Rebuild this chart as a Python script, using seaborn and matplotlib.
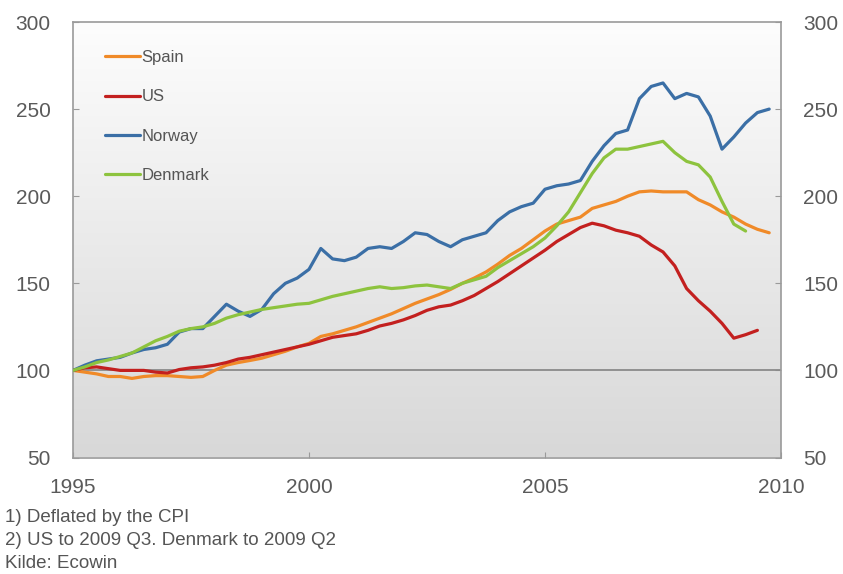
import numpy as np
import pandas as pd
import matplotlib
matplotlib.use("Agg")
import matplotlib.pyplot as plt
import seaborn as sns
from matplotlib.colors import LinearSegmentedColormap

# ---- data (quarterly, 1995Q1 = 100) ----
start_year = 1995.0
spain = [100, 99, 98, 96.5, 96.5, 95.4, 96.5, 97, 97, 96.5, 96, 96.5,
         100, 103, 104.5, 105.7, 107, 109, 111, 113.5, 115.5, 119.5, 121, 123,
         125, 127.5, 130, 132.5, 135.5, 138.5, 141, 143.5, 146.5, 150, 153, 156.5,
         161, 166, 170, 175, 180, 184, 186, 188, 193, 195, 197, 200,
         202.5, 203, 202.5, 202.5, 202.5, 198, 195, 191, 188, 184, 181, 179]
us = [100, 101.5, 102, 101, 100, 100, 100, 99, 98.5, 100.5, 101.5, 102,
      103, 104.5, 106.5, 107.5, 109, 110.5, 112, 113.5, 115, 117, 119, 120,
      121, 123, 125.5, 127, 129, 131.5, 134.5, 136.5, 137.5, 140, 143, 147,
      151, 155.5, 160, 164.5, 169, 174, 178, 182, 184.5, 183, 180.5, 179,
      177, 172, 168, 160, 147, 140, 134, 127, 118.5, 120.5, 123]
norway = [100, 103, 105.5, 106.5, 107.5, 110, 112, 113, 115, 122, 124, 124,
          131, 138, 134, 131, 135, 144, 150, 153, 158, 170, 164, 163,
          165, 170, 171, 170, 174, 179, 178, 174, 171, 175, 177, 179,
          186, 191, 194, 196, 204, 206, 207, 209, 220, 229, 236, 238,
          256, 263, 265, 256, 259, 257, 246, 227, 234, 242, 248, 250]
denmark = [100, 102, 104.5, 106, 108, 110, 113.5, 117, 119.5, 122.5, 124, 125,
           127, 130, 132, 133.5, 135, 136, 137, 138, 138.5, 140.5, 142.5, 144,
           145.5, 147, 148, 147, 147.5, 148.5, 149, 148, 147, 150, 152, 154,
           159, 163, 167, 171, 176, 183, 191, 202, 213, 222, 227, 227,
           228.5, 230, 231.5, 225, 220, 218, 211, 197, 184, 180]

countries = ["Spain", "US", "Norway", "Denmark"]
series = {"Spain": spain, "US": us, "Norway": norway, "Denmark": denmark}
colors = {"Spain": "#F08A28", "US": "#C3201F", "Norway": "#3B6FA6", "Denmark": "#8DC33E"}

y_ticks = [50, 100, 150, 200, 250, 300]
x_ticks = [1995, 2000, 2005, 2010]
footnotes = ["1) Deflated by the CPI", "2) US to 2009 Q3. Denmark to 2009 Q2", "Kilde: Ecowin"]

rows = []
for c in countries:
    for i, v in enumerate(series[c]):
        rows.append({"year": start_year + i / 4.0, "value": v, "country": c})
df = pd.DataFrame(rows)

sns.set_style("white")
plt.rcParams["font.family"] = ["Liberation Sans", "DejaVu Sans"]

W, H = 843, 574
fig = plt.figure(figsize=(W / 100, H / 100), dpi=100)
ax = fig.add_axes([73 / W, 1 - 457.5 / H, (781 - 73) / W, (457.5 - 22) / H])

# gradient background: white at top, light grey at bottom
grad = np.linspace(0, 1, 256).reshape(-1, 1)
cmap = LinearSegmentedColormap.from_list("bg", ["#fdfdfd", "#d8d8d8"])
ax.imshow(grad, aspect="auto", cmap=cmap, extent=[1995, 2010, 50, 300],
          origin="upper", zorder=0, interpolation="bicubic")

ax.axhline(100, color="#8a8a8a", lw=1.3, zorder=1)

sns.lineplot(data=df, x="year", y="value", hue="country", hue_order=countries,
             palette=colors, linewidth=2.3, ax=ax, zorder=3, legend=True)

ax.set_xlim(1995, 2010)
ax.set_ylim(50, 300)
ax.set_xticks(x_ticks)
ax.set_yticks(y_ticks)
ax.set_xlabel("")
ax.set_ylabel("")

for s in ax.spines.values():
    s.set_color("#9a9a9a")
    s.set_linewidth(1.2)

ax.tick_params(axis="y", direction="in", length=4, color="#9a9a9a",
               left=True, right=True, labelleft=True, labelright=True,
               labelsize=15, labelcolor="#5a5a5a", pad=16)
ax.tick_params(axis="x", direction="in", length=4, color="#9a9a9a",
               bottom=True, labelsize=15, labelcolor="#5a5a5a", pad=15)

leg = ax.legend(loc="upper left", bbox_to_anchor=(0.045, 0.935), frameon=False,
                fontsize=12, handlelength=2.1, handletextpad=0.1,
                labelspacing=1.45, borderaxespad=0, borderpad=0)
for t in leg.get_texts():
    t.set_color("#555555")
for l in leg.get_lines():
    l.set_linewidth(2.3)

for i, txt in enumerate(footnotes):
    fig.text(5 / W, 1 - (518 + 22.5 * i) / H, txt, fontsize=13.5,
             color="#555555", va="center", ha="left")

fig.savefig("out.png", dpi=100)
